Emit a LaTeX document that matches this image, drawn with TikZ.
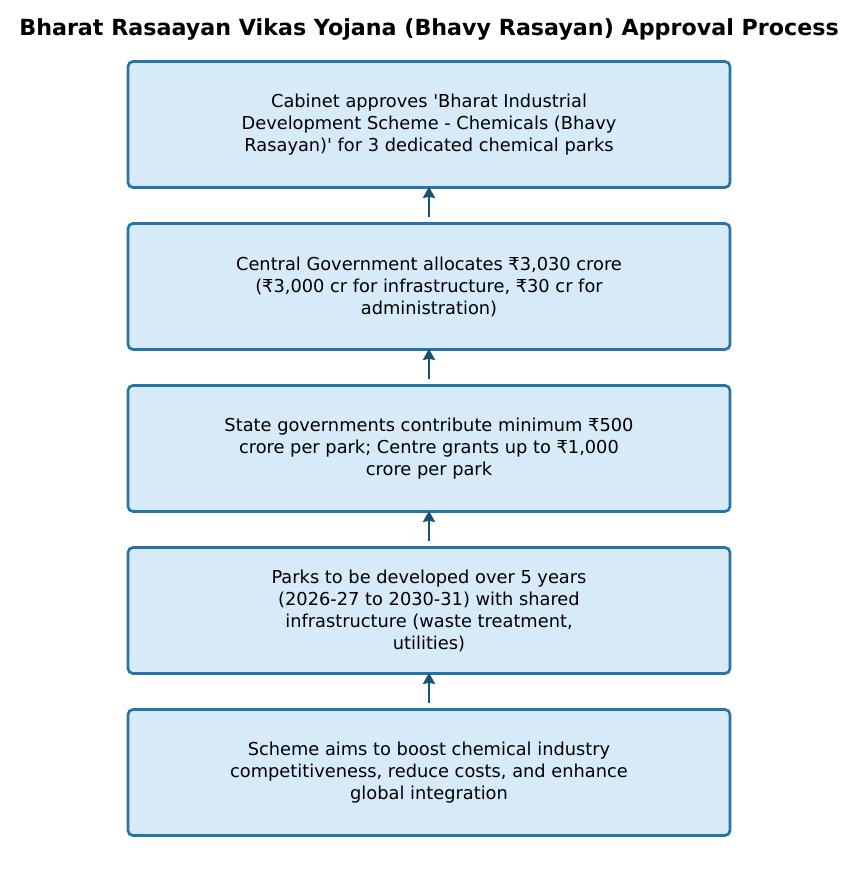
\documentclass[tikz,border=0pt]{standalone}
\usepackage{fontspec}
\setmainfont{DejaVu Sans}
\usetikzlibrary{arrows.meta}
\definecolor{boxfill}{HTML}{D6EAF8}
\definecolor{boxedge}{HTML}{2874A6}
\definecolor{arrowcol}{HTML}{1A5276}
\tikzset{
  stepbox/.style={draw=boxedge, fill=boxfill, line width=2.7pt, rounded corners=5pt,
    minimum width=602pt, minimum height=126pt, align=center, inner sep=0pt,
    font=\fontsize{17.8}{22}\selectfont},
  flowarrow/.style={draw=arrowcol, line width=2.8pt, -{Stealth[length=11pt,width=12pt,inset=1pt]}},
}
\begin{document}
\begin{tikzpicture}[x=1pt,y=-1pt]
\useasboundingbox (0,0) rectangle (858,877);
\node[font=\fontsize{22.2}{26}\selectfont\bfseries] (title) at (429,29) {Bharat Rasaayan Vikas Yojana (Bhavy Rasayan) Approval Process};
\node[stepbox] (b1) at (429,124.5) {Cabinet approves \textquotesingle Bharat Industrial\\Development Scheme - Chemicals (Bhavy\\Rasayan)\textquotesingle{} for 3 dedicated chemical parks};
\node[stepbox] (b2) at (429,286.5) {Central Government allocates ₹3,030 crore\\(₹3,000 cr for infrastructure, ₹30 cr for\\administration)};
\node[stepbox] (b3) at (429,448.5) {State governments contribute minimum ₹500\\crore per park; Centre grants up to ₹1,000\\crore per park};
\node[stepbox] (b4) at (429,610.5) {Parks to be developed over 5 years\\(2026-27 to 2030-31) with shared\\infrastructure (waste treatment,\\utilities)};
\node[stepbox] (b5) at (429,772.5) {Scheme aims to boost chemical industry\\competitiveness, reduce costs, and enhance\\global integration};
\draw[flowarrow] ([yshift=5pt]b2.north) -- ([yshift=2pt]b1.south);
\draw[flowarrow] ([yshift=5pt]b3.north) -- ([yshift=2pt]b2.south);
\draw[flowarrow] ([yshift=5pt]b4.north) -- ([yshift=2pt]b3.south);
\draw[flowarrow] ([yshift=5pt]b5.north) -- ([yshift=2pt]b4.south);
\end{tikzpicture}
\end{document}
